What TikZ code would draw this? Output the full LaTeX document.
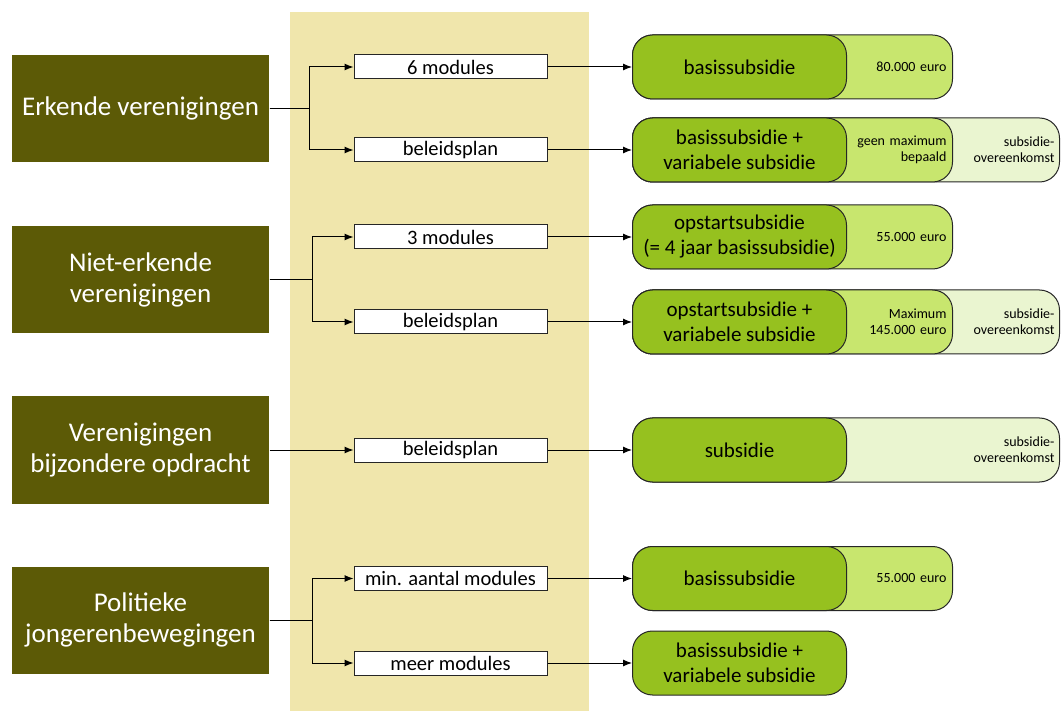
\documentclass[tikz,border=0pt]{standalone}
\usepackage{fontspec}
\setmainfont{Carlito}
\usepackage{tikz}
\usetikzlibrary{arrows.meta}
\definecolor{olijf}{HTML}{5C5A06}
\definecolor{zand}{HTML}{F0E6AC}
\definecolor{donkergroen}{HTML}{96C11F}
\definecolor{lichtgroen}{HTML}{C8E66E}
\definecolor{bleekgroen}{HTML}{EAF5D0}

\begin{document}
\begin{tikzpicture}[x=1pt,y=-1pt,line width=1pt,
  >={Latex[length=9pt,width=7pt]},
  groep/.style={fill=olijf,text=white,minimum width=257pt,minimum height=107pt,
    align=center,font=\fontsize{27}{31}\selectfont},
  keuze/.style={draw=black!85,fill=white,minimum width=193pt,
    minimum height=24pt,inner sep=0pt,font=\fontsize{20.5}{24}\selectfont},
  subs/.style={draw=black!85,fill=donkergroen,rounded corners=20pt,
    anchor=west,minimum width=214pt,minimum height=64pt,align=center,
    font=\fontsize{21}{25}\selectfont},
  bedrag/.style={draw=black!85,fill=lichtgroen,rounded corners=20pt,
    anchor=west,minimum height=64pt,text width=308pt,inner xsep=6pt,align=right,
    font=\fontsize{14}{16}\selectfont},
  overeenk/.style={draw=black!85,fill=bleekgroen,rounded corners=20pt,
    anchor=west,minimum height=64pt,text width=417pt,inner xsep=5pt,align=right,
    font=\fontsize{14}{16}\selectfont}]
\useasboundingbox (0,0) rectangle (1061,711);
\fill[zand] (290,12) rectangle (589,711);
%
\node[groep](erk) at (140.5,108.5) {Erkende verenigingen};
\node[groep](nerk) at (140.5,279.5) {Niet-erkende\\verenigingen};
\node[groep](bij) at (140.5,450) {Verenigingen\\bijzondere opdracht};
\node[groep](pol) at (140.5,620) {Politieke\\jongerenbewegingen};
%
\node[keuze](m6) at (450.5,67) {6 modules};
\node[keuze](bp1) at (450.5,150) {beleidsplan};
\node[keuze](m3) at (450.5,237) {3 modules};
\node[keuze](bp2) at (450.5,322) {beleidsplan};
\node[keuze](bp3) at (450.5,450) {beleidsplan};
\node[keuze](mmin) at (450.5,578.5) {min. aantal modules};
\node[keuze](mmeer) at (450.5,663) {meer modules};
%
\node[bedrag](b1) at (632,67) {80.000 euro};
\node[subs](s1) at (632,67) {basissubsidie};
\node[overeenk](o2) at (632,150) {subsidie-\\overeenkomst};
\node[bedrag](b2) at (632,150) {geen maximum\\bepaald};
\node[subs](s2) at (632,150) {basissubsidie +\\variabele subsidie};
\node[bedrag](b3) at (632,237) {55.000 euro};
\node[subs](s3) at (632,237) {opstartsubsidie\\(= 4 jaar basissubsidie)};
\node[overeenk](o4) at (632,322) {subsidie-\\overeenkomst};
\node[bedrag](b4) at (632,322) {Maximum\\145.000 euro};
\node[subs](s4) at (632,322) {opstartsubsidie +\\variabele subsidie};
\node[overeenk](o5) at (632,450) {subsidie-\\overeenkomst};
\node[subs](s5) at (632,450) {subsidie};
\node[bedrag](b6) at (632,578.5) {55.000 euro};
\node[subs](s6) at (632,578.5) {basissubsidie};
\node[subs](s7) at (632,663) {basissubsidie +\\variabele subsidie};
%
\draw[->](erk.east) -- ++(40,0) |- (m6.west);
\draw[->](erk.east) -- ++(40,0) |- (bp1.west);
\draw[->](nerk.east) -- ++(43,0) |- (m3.west);
\draw[->](nerk.east) -- ++(43,0) |- (bp2.west);
\draw[->](bij.east) -- (bp3.west);
\draw[->](pol.east) -- ++(43,0) |- (mmin.west);
\draw[->](pol.east) -- ++(43,0) |- (mmeer.west);
%
\draw[->](m6) -- (s1);
\draw[->](bp1) -- (s2);
\draw[->](m3) -- (s3);
\draw[->](bp2) -- (s4);
\draw[->](bp3) -- (s5);
\draw[->](mmin) -- (s6);
\draw[->](mmeer) -- (s7);
\end{tikzpicture}
\end{document}
